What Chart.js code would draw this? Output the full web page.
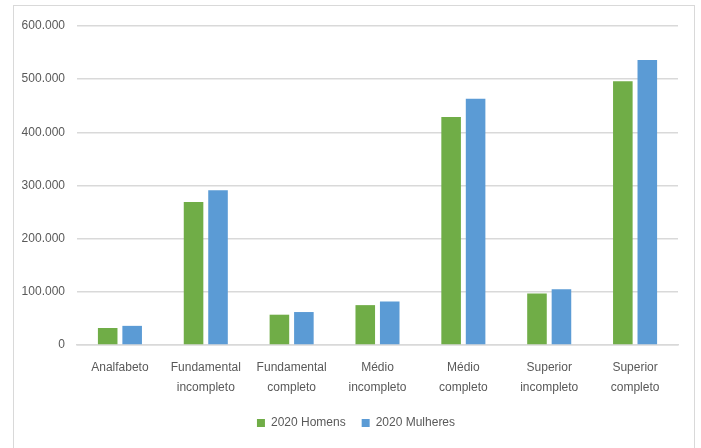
<!DOCTYPE html>
<html>
<head>
<meta charset="utf-8">
<script src="https://cdn.jsdelivr.net/npm/chart.js@4.4.1/dist/chart.umd.min.js"></script>
<style>
  html, body { margin: 0; padding: 0; background: #ffffff; }
  #wrap { position: relative; width: 701px; height: 448px; overflow: hidden; }
  #frame { position: absolute; left: 13px; top: 5px; width: 682px; height: 460px;
           border: 1.5px solid #d9d9d9; box-sizing: border-box; pointer-events: none; }
  canvas { position: absolute; left: 0; top: 0; }
</style>
</head>
<body>
<div id="wrap">
  <canvas id="chart" width="701" height="448"></canvas>
  <div id="frame"></div>
</div>
<script>
// Escolaridade por sexo, 2020
const categories = [
  ['Analfabeto'],
  ['Fundamental', 'incompleto'],
  ['Fundamental', 'completo'],
  ['Médio', 'incompleto'],
  ['Médio', 'completo'],
  ['Superior', 'incompleto'],
  ['Superior', 'completo']
];
const homens2020 = [32000, 269000, 57000, 75000, 429000, 97000, 496000];
const mulheres2020 = [36000, 291000, 62000, 82000, 463000, 105000, 536000];
const seriesNames = ['2020 Homens', '2020 Mulheres'];
const yTicks = [0, 100000, 200000, 300000, 400000, 500000, 600000];

const FONT = "'Liberation Sans', Arial, sans-serif";
const TEXT = '#595959';
const GRID = '#d9d9d9';

const fmt = v => v === 0 ? '0' : v.toLocaleString('de-DE');

// Centre the legend under the whole frame rather than the padded area
const legendShift = {
  id: 'legendShift',
  afterLayout(chart) {
    if (chart.legend) { chart.legend.left += 34; chart.legend.top -= 1; }
  }
};

new Chart(document.getElementById('chart'), {
  type: 'bar',
  data: {
    labels: categories,
    datasets: [
      { label: seriesNames[0], data: homens2020, backgroundColor: '#70ad47',
        categoryPercentage: 0.57, barPercentage: 0.8 },
      { label: seriesNames[1], data: mulheres2020, backgroundColor: '#5b9bd5',
        categoryPercentage: 0.57, barPercentage: 0.8 }
    ]
  },
  plugins: [legendShift],
  options: {
    responsive: false,
    animation: false,
    devicePixelRatio: 1,
    layout: { padding: { top: 26, right: 23, bottom: 8, left: 0 } },
    plugins: {
      tooltip: { enabled: false },
      legend: {
        position: 'bottom',
        labels: {
          boxWidth: 8, boxHeight: 8, padding: 16,
          color: TEXT, font: { family: FONT, size: 12 }
        }
      }
    },
    scales: {
      x: {
        grid: { display: false },
        border: { color: GRID, width: 1.5 },
        ticks: { color: TEXT, font: { family: FONT, size: 12, lineHeight: 1.65 },
                 padding: 5, maxRotation: 0 },
        afterFit: s => { s.height = 57; }
      },
      y: {
        min: 0, max: 600000,
        afterBuildTicks: s => { s.ticks = yTicks.map(v => ({ value: v })); },
        grid: { color: GRID, lineWidth: 1.5, drawTicks: false },
        border: { display: false },
        ticks: { color: TEXT, font: { family: FONT, size: 12 }, padding: 12,
                 callback: v => fmt(v) },
        afterFit: s => { s.width = 77; }
      }
    }
  }
});
</script>
</body>
</html>
